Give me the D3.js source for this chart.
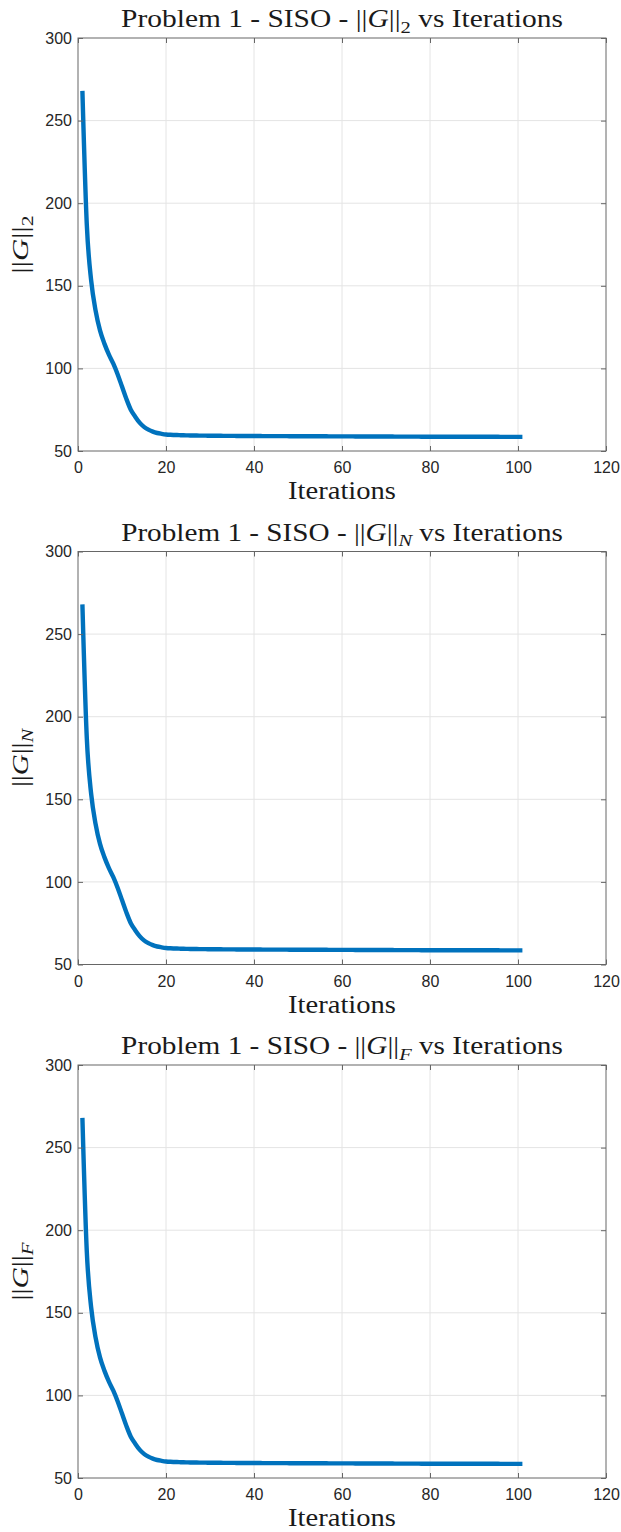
<!DOCTYPE html>
<html><head><meta charset="utf-8">
<script src="https://cdn.jsdelivr.net/npm/d3@7"></script>
<style>body{margin:0;background:#fff}</style></head>
<body><svg id="c" width="621" height="1532"></svg>
<script>
const iterations = [1,2,3,4,5,6,7,8,9,10,11,12,13,14,15,16,17,18,19,20,
 21,22,23,24,25,26,27,28,29,30,31,32,33,34,35,36,37,38,39,40,
 41,42,43,44,45,46,47,48,49,50,51,52,53,54,55,56,57,58,59,60,
 61,62,63,64,65,66,67,68,69,70,71,72,73,74,75,76,77,78,79,80,
 81,82,83,84,85,86,87,88,89,90,91,92,93,94,95,96,97,98,99,100,101];
const normValues = [268,187,153,135,123,115,108.5,103,96.5,89,81.5,75,70.8,67.2,64.6,62.9,61.7,60.9,60.4,60.0,
 59.8,59.7,59.6,59.5,59.45,59.4,59.35,59.3,59.28,59.25,
 59.22,59.2,59.18,59.16,59.14,59.12,59.1,59.08,59.06,59.05,
 59.04,59.03,59.02,59.01,59.0,58.99,58.98,58.97,58.96,58.95,
 58.94,58.93,58.92,58.91,58.9,58.89,58.88,58.87,58.86,58.85,
 58.84,58.83,58.82,58.81,58.8,58.79,58.78,58.77,58.76,58.75,
 58.74,58.73,58.72,58.71,58.7,58.69,58.68,58.67,58.66,58.65,
 58.65,58.64,58.64,58.63,58.63,58.62,58.62,58.61,58.61,58.6,
 58.6,58.6,58.59,58.59,58.59,58.58,58.58,58.58,58.57,58.57,58.57];
const normSubscripts = ["2","N","F"];
const subItalic = [false,true,true];
const xTicks = [0,20,40,60,80,100,120];
const yTicks = [50,100,150,200,250,300];

const svg = d3.select("#c");
const L = 78, R = 606, H = 413, period = 513.5, firstTop = 38;
const x = d3.scaleLinear().domain([0,120]).range([L,R]);
const serif = "'Liberation Serif','Times New Roman',serif";
const sans = "'Liberation Sans',Arial,Helvetica,sans-serif";

function addNorm(t, i, size){
  t.append("tspan").text("||");
  t.append("tspan").attr("font-style","italic").text("G");
  t.append("tspan").text("||");
  t.append("tspan").attr("font-size", size*0.7).attr("dy", size*0.22)
    .attr("font-style", subItalic[i] ? "italic" : "normal").text(normSubscripts[i]);
}

normSubscripts.forEach((s, i) => {
  const top = firstTop + i*period, bot = top + H;
  const y = d3.scaleLinear().domain([50,300]).range([bot, top]);
  const g = svg.append("g");

  g.selectAll(".gx").data(xTicks.filter(d => d>0 && d<120)).join("line")
    .attr("x1", d=>x(d)).attr("x2", d=>x(d)).attr("y1", top).attr("y2", bot)
    .attr("stroke","#e4e4e4").attr("stroke-width",1);
  g.selectAll(".gy").data(yTicks.filter(d => d>50 && d<300)).join("line")
    .attr("y1", d=>y(d)).attr("y2", d=>y(d)).attr("x1", L).attr("x2", R)
    .attr("stroke","#e4e4e4").attr("stroke-width",1);

  const data = iterations.map((it,k)=>[it, normValues[k]]);
  g.append("path").datum(data)
    .attr("d", d3.line().curve(d3.curveMonotoneX).x(d=>x(d[0])).y(d=>y(d[1])))
    .attr("fill","none").attr("stroke","#0072BD").attr("stroke-width",4.4)
    .attr("stroke-linejoin","round");

  const ax = (gen, tr) => {
    const a = g.append("g").attr("transform", tr).call(gen);
    a.select(".domain").remove();
    a.selectAll(".tick line").attr("stroke","#666").attr("stroke-width",1);
    a.selectAll("text").attr("font-family", sans).attr("font-size",16).attr("fill","#262626");
    return a;
  };
  ax(d3.axisBottom(x).tickValues(xTicks).tickSizeInner(-5).tickSizeOuter(0).tickPadding(11), `translate(0,${bot})`);
  ax(d3.axisTop(x).tickValues(xTicks).tickSizeInner(-5).tickSizeOuter(0).tickFormat(""), `translate(0,${top})`);
  ax(d3.axisLeft(y).tickValues(yTicks).tickSizeInner(-5).tickSizeOuter(0).tickPadding(6), `translate(${L},0)`);
  ax(d3.axisRight(y).tickValues(yTicks).tickSizeInner(-5).tickSizeOuter(0).tickFormat(""), `translate(${R},0)`);
  g.append("rect").attr("x",L).attr("y",top).attr("width",R-L).attr("height",H)
    .attr("fill","none").attr("stroke","#666").attr("stroke-width",1);

  const cx = (L+R)/2;
  const t = g.append("text").attr("font-family", serif).attr("font-size",25).attr("fill","#1a1a1a")
    .attr("text-anchor","middle");
  t.append("tspan").text("Problem 1 - SISO - ");
  addNorm(t, i, 25);
  t.append("tspan").attr("dy", -25*0.22).text(" vs Iterations");
  const tw = t.node().getComputedTextLength();
  t.attr("transform", `translate(${cx},${top-11}) scale(${442/tw},1)`);

  const xl = g.append("text").attr("font-family", serif).attr("font-size",25).attr("fill","#1a1a1a")
    .attr("text-anchor","middle").text("Iterations");
  const xw = xl.node().getComputedTextLength();
  xl.attr("transform", `translate(${cx},${bot+48}) scale(${108/xw},1)`);

  const yl = g.append("text").attr("font-family", serif).attr("font-size",24).attr("fill","#1a1a1a")
    .attr("text-anchor","middle");
  addNorm(yl, i, 24);
  const yw = yl.node().getComputedTextLength();
  yl.attr("transform", `translate(28,${(top+bot)/2}) rotate(-90) scale(${58/yw},1)`);
});
</script></body></html>
